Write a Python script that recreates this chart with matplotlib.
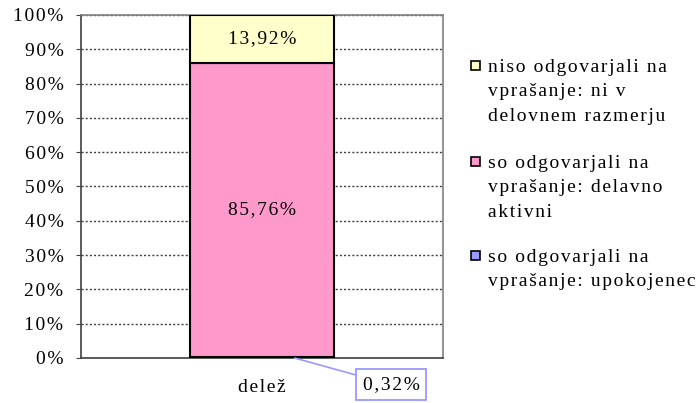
import matplotlib
matplotlib.use("Agg")
import matplotlib.pyplot as plt
from matplotlib.patches import Rectangle

categories = ["delež"]
series_names = ["so odgovarjali na\nvprašanje: upokojenec",
                "so odgovarjali na\nvprašanje: delavno\naktivni",
                "niso odgovarjali na\nvprašanje: ni v\ndelovnem razmerju"]
values = [0.32, 85.76, 13.92]
labels = ["0,32%", "85,76%", "13,92%"]
colors = ["#9999FF", "#FF99CC", "#FFFFCC"]
yticks = list(range(0, 101, 10))

HS = "\u200a"
def track(s):
    return HS.join(s)

plt.rcParams['font.family'] = ['Liberation Serif', 'DejaVu Serif']
W, H = 699, 403
fig = plt.figure(figsize=(W/100, H/100), dpi=100)
ax = fig.add_axes([81/W, 1-358/H, (443-81)/W, (358-15)/H])

bottom = 0
for v, c in zip(values, colors):
    ax.bar(0, v, width=0.4, bottom=bottom, color=c, edgecolor='black', linewidth=1.5, zorder=3)
    bottom += v

ax.set_xlim(-0.5, 0.5)
ax.set_ylim(0, 100)
ax.set_yticks(yticks)
ax.set_yticklabels([track(f"{t}%") for t in yticks], fontsize=14)
ax.set_xticks([0])
ax.set_xticklabels([track(c) for c in categories], fontsize=14)
ax.tick_params(axis='x', length=0, pad=15)
ax.tick_params(axis='y', length=3.6, direction='out', color='#404040', pad=9)
ax.yaxis.grid(True, linestyle=(0, (1.5, 1.5)), color='#404040', linewidth=1, zorder=1)
for s in ['top', 'right']:
    ax.spines[s].set_color('#808080')
    ax.spines[s].set_linewidth(1.2)
for s in ['left', 'bottom']:
    ax.spines[s].set_color('#404040')
    ax.spines[s].set_linewidth(1.2)

cum = 0
for i, (v, lab) in enumerate(zip(values, labels)):
    mid = cum + v / 2
    cum += v
    if i == 0:
        ax.annotate(track(lab), xy=(0.09, 0), xytext=(0.357, -7.8), textcoords='data',
                    fontsize=14, ha='center', va='center', annotation_clip=False,
                    bbox=dict(boxstyle='square,pad=0.35', fc='white', ec='#9999FF', lw=1.3),
                    arrowprops=dict(arrowstyle='-', color='#9999FF', lw=1.2, shrinkA=0, shrinkB=0))
    else:
        ax.text(0, mid, track(lab), fontsize=14, ha='center', va='center', zorder=4)

# legend (manual): square aligned with the first text line of each entry
entry_first = [65, 161, 255]
line_step = 25
for name, c, y0 in zip(series_names[::-1], colors[::-1], entry_first):
    fig.patches.append(Rectangle((471/W, 1-(y0+4.5)/H), 9/W, 9/H,
                                 transform=fig.transFigure, facecolor=c,
                                 edgecolor='black', linewidth=1.2))
    for k, line in enumerate(name.split("\n")):
        fig.text(488/W, 1-(y0 + k*line_step)/H, track(line), fontsize=14,
                 ha='left', va='center_baseline')

fig.savefig("out.png", dpi=100)
